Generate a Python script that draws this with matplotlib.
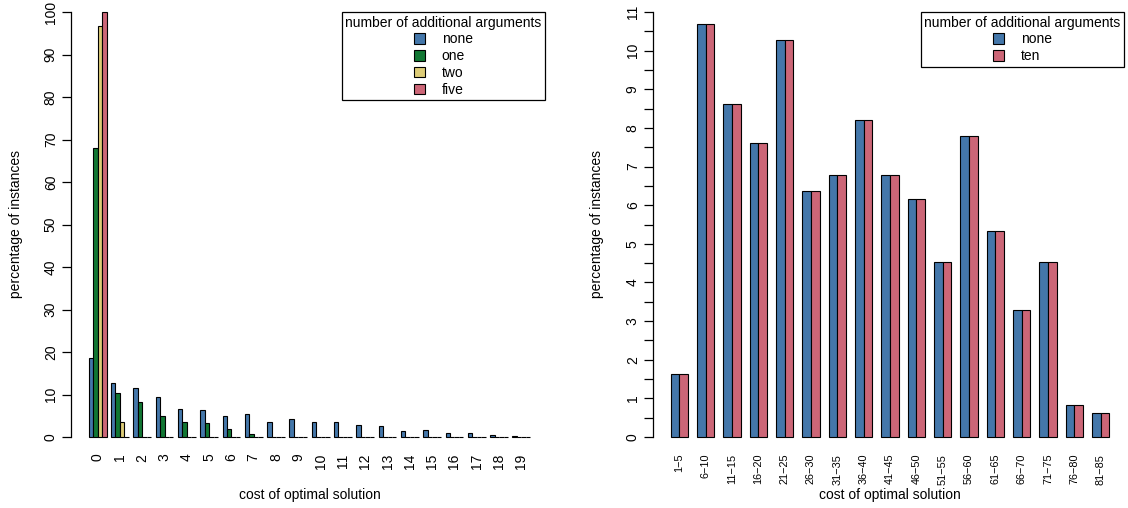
import numpy as np
import matplotlib
matplotlib.use("Agg")
import matplotlib.pyplot as plt
from matplotlib.patches import Patch

plt.rcParams['font.family'] = ['Liberation Sans', 'DejaVu Sans']
plt.rcParams['font.size'] = 10

# left panel: cost distribution for 0..19 extra arguments
costs = [str(i) for i in range(20)]
pct_none = [18.7, 12.8, 11.5, 9.5, 6.7, 6.4, 5.0, 5.35, 3.6, 4.2,
            3.6, 3.6, 2.75, 2.5, 1.4, 1.65, 0.95, 0.95, 0.55, 0.3]
pct_one = [67.9, 10.3, 8.2, 5.0, 3.6, 3.4, 1.9, 0.6, 0, 0,
           0, 0, 0, 0, 0, 0, 0, 0, 0, 0]
pct_two = [96.6, 3.6] + [0] * 18
pct_five = [100.0] + [0] * 19

# right panel: binned costs
bins = ["1−5", "6−10", "11−15", "16−20", "21−25", "26−30", "31−35", "36−40",
        "41−45", "46−50", "51−55", "56−60", "61−65", "66−70", "71−75",
        "76−80", "81−85"]
bin_none = [1.64, 10.68, 8.62, 7.60, 10.27, 6.37, 6.78, 8.21, 6.78, 6.16,
            4.52, 7.80, 5.34, 3.29, 4.52, 0.82, 0.62]
bin_ten = [1.64, 10.68, 8.62, 7.60, 10.27, 6.37, 6.78, 8.21, 6.78, 6.16,
           4.52, 7.80, 5.34, 3.29, 4.52, 0.82, 0.62]

blue = '#4477AA'
green = '#117733'
sand = '#DDCC77'
rose = '#CC6677'

W, H = 1128, 508
fig = plt.figure(figsize=(W / 100, H / 100), dpi=100)


def px_axes(x0, x1, ytop, ybot):
    return fig.add_axes([x0 / W, (H - ybot) / H, (x1 - x0) / W, (ybot - ytop) / H])


def style(ax, ylab_x, xlab_y, xsize):
    for s in ['top', 'right', 'bottom']:
        ax.spines[s].set_visible(False)
    ax.spines['left'].set_linewidth(0.9)
    ax.tick_params(axis='x', length=0, pad=12, labelsize=xsize)
    ax.tick_params(axis='y', which='both', length=6.5, width=0.9, pad=3)
    for lab in ax.get_yticklabels():
        lab.set_rotation(90)
        lab.set_va('center')
    for lab in ax.get_xticklabels():
        lab.set_rotation(90)
        lab.set_va('top')
        lab.set_ha('center')
    ax.set_ylabel('percentage of instances')
    ax.set_xlabel('cost of optimal solution')
    ax.yaxis.set_label_coords(ylab_x, 0.5)
    ax.yaxis.label.set_va('center')
    ax.xaxis.set_label_coords(0.5, xlab_y)
    ax.xaxis.label.set_va('center')


def legend(ax, names, cols):
    handles = [Patch(facecolor=c, edgecolor='black', linewidth=0.8) for c in cols]
    lg = ax.legend(handles, names, title='number of additional arguments',
                   loc='upper right', bbox_to_anchor=(0.994, 1.0),
                   frameon=True, fancybox=False, edgecolor='black',
                   framealpha=1, borderaxespad=0, handlelength=0.8,
                   handleheight=0.8, handletextpad=1.2, labelspacing=0.2,
                   borderpad=0.26, fontsize=10, title_fontsize=10)
    lg.get_frame().set_linewidth(0.9)


# left panel
ax1 = px_axes(71, 548, 12, 437)
series = [pct_none, pct_one, pct_two, pct_five]
colors = [blue, green, sand, rose]
gx = 1 + 5 * np.arange(len(costs))
for j, (vals, c) in enumerate(zip(series, colors)):
    ax1.bar(gx + j, vals, width=1, align='edge', color=c,
            edgecolor='black', linewidth=0.8)
ax1.set_xlim(-2.96, 103.96)
ax1.set_ylim(0, 100)
ax1.set_yticks(np.arange(0, 101, 10))
ax1.set_xticks(gx + 2)
ax1.set_xticklabels(costs)
style(ax1, (16 - 71) / 477, (437 - 495) / 425, 10)
legend(ax1, ['none', 'one', 'two', 'five'], colors)

# right panel
ax2 = px_axes(653, 1127, 12, 437)
bx = 1 + 3 * np.arange(len(bins))
ax2.bar(bx, bin_none, width=1, align='edge', color=blue,
        edgecolor='black', linewidth=0.8)
ax2.bar(bx + 1, bin_ten, width=1, align='edge', color=rose,
        edgecolor='black', linewidth=0.8)
ax2.set_xlim(-1, 53)
ax2.set_ylim(0, 11)
ax2.set_yticks(np.arange(0, 12, 1))
ax2.set_yticks(np.arange(0.5, 11, 1), minor=True)
ax2.set_xticks(bx + 1)
ax2.set_xticklabels(bins)
style(ax2, (597 - 653) / 474, (437 - 495) / 425, 7.8)
legend(ax2, ['none', 'ten'], [blue, rose])

for ax in (ax1, ax2):
    for b in ax.patches:
        b.set_clip_on(False)

fig.savefig('out.png', dpi=100)
